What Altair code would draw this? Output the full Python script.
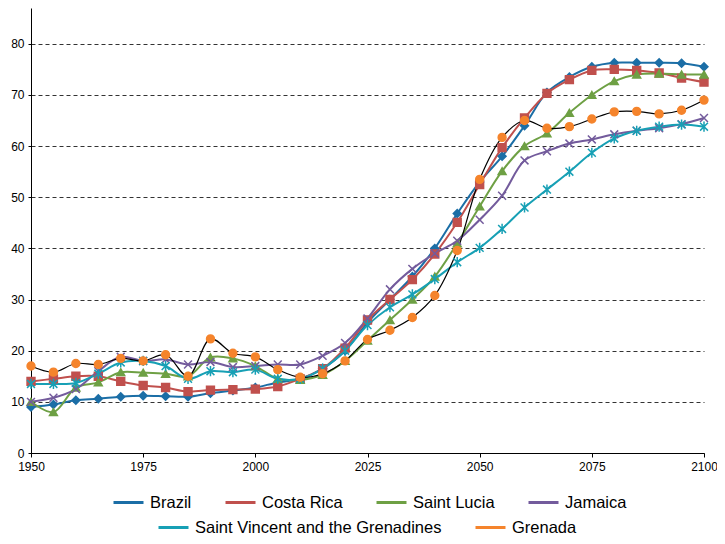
import altair as alt
import pandas as pd

years = list(range(1950, 2101, 5))

brazil = [9.0, 9.5, 10.3, 10.6, 11.0, 11.2, 11.1, 11.0, 11.7, 12.2, 12.8, 13.8, 14.5, 16.5, 20.0, 25.5,
          30.0, 34.5, 40.0, 46.8, 53.0, 58.0, 64.0, 70.5, 73.5, 75.5, 76.3, 76.3, 76.3, 76.2, 75.5]
costa_rica = [14.0, 14.5, 15.0, 15.0, 14.0, 13.2, 12.8, 12.0, 12.3, 12.4, 12.5, 13.0, 14.5, 16.5, 20.5, 26.0,
              30.0, 33.9, 38.9, 45.1, 52.5, 59.7, 65.5, 70.3, 73.0, 74.8, 75.0, 74.8, 74.3, 73.3, 72.5]
saint_lucia = [10.0, 8.0, 12.8, 13.8, 15.8, 15.7, 15.5, 15.0, 18.7, 18.5, 17.0, 14.5, 14.3, 15.3, 18.0, 22.0,
               26.0, 30.0, 34.5, 41.0, 48.2, 55.1, 60.0, 62.5, 66.5, 70.0, 72.7, 74.0, 74.2, 74.0, 74.0]
jamaica = [10.0, 10.8, 12.5, 16.0, 18.8, 18.0, 18.3, 17.3, 17.8, 16.8, 17.0, 17.3, 17.3, 19.0, 21.5, 26.3,
           32.0, 36.0, 39.0, 41.5, 45.6, 50.3, 57.2, 59.0, 60.5, 61.3, 62.3, 63.0, 63.5, 64.3, 65.5]
st_vincent = [13.5, 13.5, 13.7, 15.5, 17.7, 18.0, 17.0, 14.5, 16.0, 15.8, 16.3, 14.5, 14.5, 16.5, 20.0, 25.0,
              28.5, 31.0, 34.0, 37.3, 40.1, 43.8, 48.0, 51.5, 55.0, 58.7, 61.5, 63.0, 63.8, 64.2, 63.8]
grenada = [17.0, 15.8, 17.5, 17.3, 18.5, 18.0, 19.2, 15.0, 22.3, 19.5, 18.8, 16.3, 14.8, 15.5, 18.0, 22.2,
           24.0, 26.5, 30.8, 39.6, 53.5, 61.7, 65.0, 63.5, 63.8, 65.3, 66.7, 66.8, 66.3, 67.0, 69.0]

countries = ["Brazil", "Costa Rica", "Saint Lucia", "Jamaica",
             "Saint Vincent and the Grenadines", "Grenada"]
series = [brazil, costa_rica, saint_lucia, jamaica, st_vincent, grenada]
colors = ["#1b6ea6", "#c0504d", "#6ea044", "#735b9c", "#17a0b5", "#f5842c"]
X_PATH = "M-1,-1L1,1M-1,1L1,-1"
AST_PATH = "M-1,-1L1,1M-1,1L1,-1M0,-1.3L0,1.3"
shapes = ["diamond", "square", "triangle-up", X_PATH, AST_PATH, "circle"]

group_a = countries[:4]
group_b = countries[4:]

rows = []
for c, vals in zip(countries, series):
    for y, v in zip(years, vals):
        rows.append({"Year": y, "Country": c, "Value": v})
df = pd.DataFrame(rows)

x_enc = alt.X("Year:Q", scale=alt.Scale(domain=[1950, 2100], nice=False, zero=False),
              axis=alt.Axis(values=[1950, 1975, 2000, 2025, 2050, 2075, 2100], format="d",
                            title=None, grid=False, domainColor="black", tickColor="black",
                            labelFont="Liberation Sans", labelFontSize=12, labelColor="#000",
                            tickSize=4, labelPadding=4))
y_enc = alt.Y("Value:Q", scale=alt.Scale(domain=[0, 87], nice=False),
              axis=alt.Axis(values=list(range(0, 81, 10)), title=None, grid=True,
                            gridDash=[4, 3], gridColor="#333", gridWidth=1,
                            domainColor="black", tickColor="black", tickSize=3,
                            labelFont="Liberation Sans", labelFontSize=12, labelColor="#000",
                            labelPadding=4))

legend_common = dict(orient="none", direction="horizontal", title=None,
                     symbolType="stroke", symbolStrokeWidth=3, symbolSize=900,
                     labelFont="Liberation Sans", labelFontSize=16.5, labelColor="#000",
                     labelLimit=400, columnPadding=27, labelOffset=5, padding=0)

lines_a = alt.Chart(df).transform_filter(
    alt.FieldOneOfPredicate(field="Country", oneOf=group_a)
).mark_line(interpolate="catmull-rom", strokeWidth=2).encode(
    x=x_enc, y=y_enc,
    color=alt.Color("Country:N", scale=alt.Scale(domain=group_a, range=colors[:4]),
                    legend=alt.Legend(legendX=81, legendY=478, **legend_common)),
)

lines_b = alt.Chart(df).transform_filter(
    alt.FieldEqualPredicate(field="Country", equal=group_b[0])
).mark_line(interpolate="catmull-rom", strokeWidth=2).encode(
    x=x_enc, y=y_enc,
    color=alt.Color("Country:N", scale=alt.Scale(domain=group_b, range=colors[4:]),
                    legend=alt.Legend(legendX=126, legendY=503, **legend_common)),
)

line_gren = alt.Chart(df).transform_filter(
    alt.FieldEqualPredicate(field="Country", equal="Grenada")
).mark_line(interpolate="catmull-rom", strokeWidth=1.2, color="black").encode(
    x=x_enc, y=y_enc,
)

points = alt.Chart(df).mark_point(filled=True, strokeWidth=1.5, opacity=1, size=62).encode(
    x=x_enc, y=y_enc,
    color=alt.Color("Country:N", scale=alt.Scale(domain=countries, range=colors), legend=None),
    stroke=alt.Stroke("Country:N", scale=alt.Scale(domain=countries, range=colors), legend=None),
    shape=alt.Shape("Country:N", scale=alt.Scale(domain=countries, range=shapes), legend=None),
)

chart = alt.layer(lines_a, lines_b, line_gren, points).resolve_scale(
    color="independent", stroke="independent", shape="independent"
).properties(
    width=673, height=445,
    autosize=alt.AutoSizeParams(type="none"),
    padding={"left": 23, "top": 0, "right": 13, "bottom": 83},
).configure_view(stroke=None).configure_axis(labelFlush=False)

chart.save("out.html", embed_options={"renderer": "svg", "actions": False})
